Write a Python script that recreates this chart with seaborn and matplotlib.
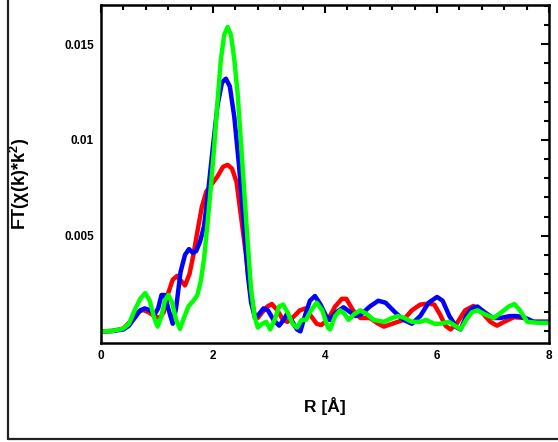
import numpy as np
import matplotlib
matplotlib.use("Agg")
import matplotlib.pyplot as plt
import seaborn as sns
from matplotlib.ticker import MultipleLocator
from matplotlib.lines import Line2D

# ---------- data ----------
r_red = [0.0, 0.2, 0.4, 0.55, 0.65, 0.75, 0.85, 0.95, 1.05, 1.12, 1.20, 1.28, 1.36, 1.44,
         1.50, 1.58, 1.65, 1.72, 1.80, 1.88, 1.98, 2.08, 2.18, 2.26, 2.34, 2.42, 2.50,
         2.58, 2.66, 2.74, 2.80, 2.88, 2.97, 3.05, 3.15, 3.25, 3.33, 3.45, 3.55, 3.65,
         3.75, 3.85, 3.93, 4.05, 4.18, 4.30, 4.38, 4.50, 4.63, 4.80, 4.95, 5.05, 5.20,
         5.40, 5.55, 5.70, 5.85, 5.95, 6.05, 6.15, 6.24, 6.35, 6.50, 6.65, 6.80, 6.95,
         7.07, 7.20, 7.37, 7.55, 7.70, 7.85, 8.0]
ft_red = [0.0, 0.00002, 0.00015, 0.0006, 0.0010, 0.00112, 0.0010, 0.0008, 0.0007, 0.0010,
          0.0020, 0.0027, 0.0029, 0.0026, 0.0024, 0.0030, 0.0040, 0.0052, 0.0065, 0.0073,
          0.0077, 0.0081, 0.0086, 0.0087, 0.0085, 0.0078, 0.0060, 0.0042, 0.0022, 0.0009,
          0.0007, 0.0010, 0.0013, 0.00143, 0.0011, 0.0006, 0.0005, 0.0008, 0.0011, 0.0012,
          0.0008, 0.0004, 0.00033, 0.0006, 0.0013, 0.0017, 0.0017, 0.0011, 0.0007, 0.0007,
          0.0004, 0.00025, 0.0004, 0.0006, 0.0011, 0.0014, 0.00145, 0.0014, 0.0009, 0.0003,
          0.0001, 0.0004, 0.0011, 0.00133, 0.0010, 0.0005, 0.0003, 0.0005, 0.00074, 0.0007,
          0.0005, 0.0005, 0.0005]

r_blue = [0.0, 0.2, 0.4, 0.5, 0.6, 0.7, 0.78, 0.88, 0.96, 1.02, 1.08, 1.14, 1.20, 1.28,
          1.34, 1.42, 1.50, 1.57, 1.64, 1.70, 1.77, 1.84, 1.92, 2.00, 2.08, 2.16, 2.23,
          2.30, 2.38, 2.46, 2.54, 2.62, 2.68, 2.75, 2.82, 2.90, 2.98, 3.08, 3.18, 3.26,
          3.32, 3.40, 3.50, 3.56, 3.64, 3.73, 3.82, 3.92, 4.02, 4.09, 4.20, 4.33, 4.45,
          4.55, 4.65, 4.80, 4.95, 5.08, 5.25, 5.40, 5.55, 5.70, 5.85, 6.00, 6.10, 6.22,
          6.35, 6.42, 6.52, 6.62, 6.72, 6.85, 7.00, 7.13, 7.30, 7.43, 7.58, 7.73, 8.0]
ft_blue = [0.0, 0.00002, 0.0001, 0.0003, 0.0007, 0.0011, 0.0012, 0.0011, 0.0009, 0.0012,
           0.0019, 0.0019, 0.0012, 0.0004, 0.0012, 0.0031, 0.0040, 0.0043, 0.0041, 0.0042,
           0.0047, 0.0055, 0.0075, 0.0097, 0.0118, 0.0130, 0.0132, 0.0128, 0.0112, 0.0088,
           0.0060, 0.0030, 0.0015, 0.0007, 0.0009, 0.0012, 0.0011, 0.0006, 0.0003, 0.0006,
           0.0009, 0.0006, 0.0001, 0.0000, 0.0008, 0.0016, 0.00185, 0.0014, 0.0008, 0.0006,
           0.0010, 0.00126, 0.0010, 0.0008, 0.0009, 0.0013, 0.0016, 0.0015, 0.0010, 0.0006,
           0.0004, 0.0008, 0.0015, 0.0018, 0.0016, 0.0008, 0.0002, 0.0001, 0.0008, 0.0012,
           0.0013, 0.0010, 0.0007, 0.0007, 0.0008, 0.0008, 0.0007, 0.0005, 0.0005]

r_green = [0.0, 0.2, 0.4, 0.5, 0.6, 0.7, 0.79, 0.87, 0.95, 1.01, 1.08, 1.14, 1.20, 1.27,
           1.34, 1.41, 1.48, 1.56, 1.65, 1.72, 1.78, 1.84, 1.90, 1.96, 2.02, 2.08, 2.14,
           2.20, 2.26, 2.32, 2.38, 2.44, 2.50, 2.56, 2.62, 2.68, 2.74, 2.80, 2.88, 2.95,
           3.02, 3.10, 3.18, 3.25, 3.33, 3.42, 3.50, 3.58, 3.66, 3.75, 3.85, 3.95, 4.05,
           4.09, 4.18, 4.27, 4.35, 4.42, 4.52, 4.63, 4.75, 4.87, 5.05, 5.20, 5.30, 5.42,
           5.55, 5.70, 5.80, 5.95, 6.06, 6.21, 6.32, 6.42, 6.52, 6.62, 6.72, 6.85, 7.01,
           7.15, 7.28, 7.38, 7.48, 7.61, 7.80, 8.0]
ft_green = [0.0, 0.00002, 0.00015, 0.0004, 0.0011, 0.0017, 0.0020, 0.0016, 0.0007, 0.00025,
            0.0008, 0.0016, 0.0019, 0.0015, 0.0006, 0.00013, 0.0007, 0.0013, 0.0016, 0.0019,
            0.0026, 0.0038, 0.0056, 0.0075, 0.0096, 0.0120, 0.0142, 0.0155, 0.0159, 0.0155,
            0.0142, 0.0124, 0.0098, 0.0072, 0.0046, 0.0022, 0.0008, 0.0002, 0.0004, 0.0005,
            0.0001, 0.0006, 0.0013, 0.0014, 0.0010, 0.0004, 0.0002, 0.0006, 0.0006, 0.0011,
            0.0015, 0.0011, 0.0002, 0.0001, 0.0008, 0.0011, 0.0009, 0.0006, 0.0009, 0.0011,
            0.0009, 0.0006, 0.0005, 0.0007, 0.0008, 0.0007, 0.0005, 0.0005, 0.0006, 0.0004,
            0.0004, 0.0005, 0.0003, 0.0001, 0.0006, 0.0010, 0.0011, 0.0009, 0.0007, 0.0010,
            0.0013, 0.00143, 0.0011, 0.0005, 0.00045, 0.00045]

x_ticks = [0, 2, 4, 6, 8]
y_ticks = [0.005, 0.01, 0.015]
y_tick_labels = ["0.005", "0.01", "0.015"]

# ---------- plot ----------
sns.set_style("white")
plt.rcParams['font.family'] = ['Liberation Sans', 'DejaVu Sans']
plt.rcParams['font.weight'] = 'bold'
plt.rcParams['text.color'] = 'black'
plt.rcParams['axes.labelcolor'] = 'black'
plt.rcParams['mathtext.fontset'] = 'custom'
plt.rcParams['mathtext.rm'] = 'Liberation Sans:bold'
plt.rcParams['mathtext.bf'] = 'Liberation Sans:bold'
plt.rcParams['mathtext.default'] = 'bf'

fig = plt.figure(figsize=(5.58, 4.42), dpi=100)
ax = fig.add_axes([0.181, 0.2247, 0.803, 0.7640])

for r, ft, c in [(r_red, ft_red, '#ff0000'), (r_blue, ft_blue, '#0000ff'),
                 (r_green, ft_green, '#00ff00')]:
    sns.lineplot(x=r, y=ft, color=c, lw=3.2, sort=False, ax=ax)

ax.set_xlim(0, 8)
ax.set_ylim(-0.00059, 0.01705)
ax.set_xticks(x_ticks)
ax.set_xticklabels([str(t) for t in x_ticks])
ax.set_yticks(y_ticks)
ax.set_yticklabels(y_tick_labels)
ax.xaxis.set_minor_locator(MultipleLocator(0.4))
ax.yaxis.set_minor_locator(MultipleLocator(0.001))

ax.tick_params(which='both', direction='in', top=True, right=True, width=1.5,
               colors='black', labelsize=8.5, pad=5)
ax.tick_params(which='major', length=6)
ax.tick_params(which='minor', length=3.5)
for lab in ax.get_xticklabels() + ax.get_yticklabels():
    lab.set_fontweight('bold')
for s in ax.spines.values():
    s.set_linewidth(1.8)
    s.set_color('black')

ax.set_xlabel("R [Å]", fontsize=12.5, fontweight='bold')
ax.set_ylabel("FT(χ(k)*k$^{2}$)", fontsize=13, fontweight='bold')
ax.xaxis.set_label_coords(0.5, -0.16)
ax.yaxis.set_label_coords(-0.155, 0.47)

# outer frame (only left and bottom edges visible in the reference)
fig.add_artist(Line2D([8 / 558, 8 / 558], [1 - 438.5 / 442, 1.0], color='#222222',
                      lw=1.6, transform=fig.transFigure))
fig.add_artist(Line2D([8 / 558, 1.0], [1 - 438.5 / 442, 1 - 438.5 / 442], color='#222222',
                      lw=1.6, transform=fig.transFigure))

fig.savefig("out.png", dpi=100)
